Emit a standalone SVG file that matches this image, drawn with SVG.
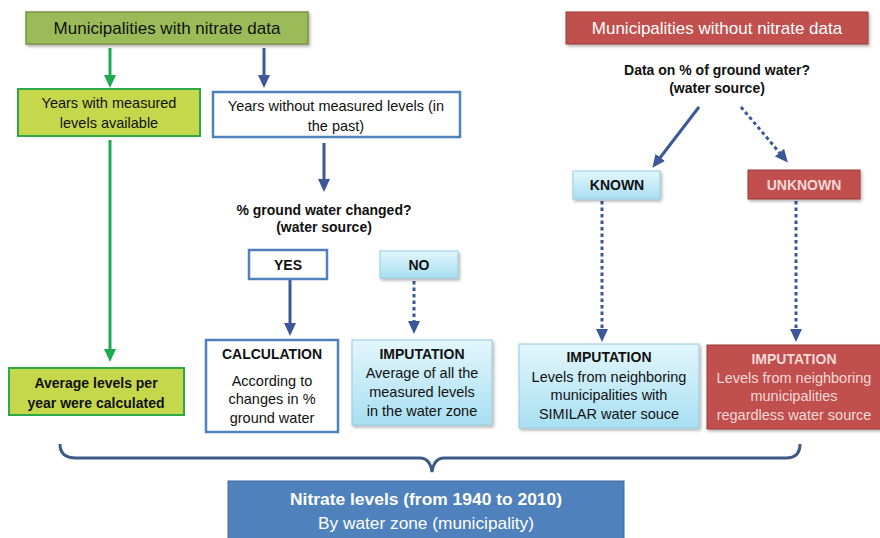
<svg xmlns="http://www.w3.org/2000/svg" width="880" height="538" viewBox="0 0 880 538">
<defs>
<linearGradient id="lb" x1="0" y1="0" x2="0" y2="1"><stop offset="0" stop-color="#e3f6fc"/><stop offset="1" stop-color="#a8dff2"/></linearGradient>
<filter id="sh" x="-10%" y="-10%" width="130%" height="140%"><feDropShadow dx="1.5" dy="2" stdDeviation="1.5" flood-color="#000" flood-opacity="0.3"/></filter>
<marker id="ab" markerUnits="userSpaceOnUse" markerWidth="14" markerHeight="14" refX="7" refY="7" orient="auto"><path d="M0,1 L13,7 L0,13 Z" fill="#3b5998"/></marker>
<marker id="ag" markerUnits="userSpaceOnUse" markerWidth="14" markerHeight="14" refX="7" refY="7" orient="auto"><path d="M0,1 L13,7 L0,13 Z" fill="#1faa50"/></marker>
</defs>
<style>
text{font-family:"Liberation Sans",Arial,sans-serif;text-anchor:middle;fill:#111}
.t15{font-size:17px}
.t13{font-size:14.5px}
.b{font-weight:bold;font-size:14px}
.w{fill:#fff}
.pk{fill:#f4d9d8}
.olive{fill:#9bbb59;stroke:#7a9440;stroke-width:1.5}
.yg{fill:#c5d84c;stroke:#2fa84a;stroke-width:2}
.wb{fill:#fff;stroke:#4f81bd;stroke-width:2.5}
.lb{fill:url(#lb);stroke:#93cbe0;stroke-width:1}
.red{fill:#c0504d;stroke:#9b3a37;stroke-width:1}
.blue{fill:#4f81bd;stroke:#3e6a9e;stroke-width:1}
.cb{stroke:#3b5998;stroke-width:3;fill:none}
.cg{stroke:#1faa50;stroke-width:3;fill:none}
.dot{stroke-dasharray:3.5 3}
</style>
<rect width="880" height="538" fill="#fff"/>
<g id="connectors">
<line class="cg" x1="110" y1="48" x2="110" y2="82" marker-end="url(#ag)"/>
<line class="cb" x1="264" y1="48" x2="264" y2="82" marker-end="url(#ab)"/>
<line class="cg" x1="110" y1="140" x2="110" y2="356" marker-end="url(#ag)"/>
<line class="cb" x1="324" y1="143" x2="324" y2="186" marker-end="url(#ab)"/>
<line class="cb" x1="290" y1="280" x2="290" y2="330" marker-end="url(#ab)"/>
<line class="cb dot" x1="414" y1="281" x2="414" y2="328" marker-end="url(#ab)"/>
<line class="cb" x1="699" y1="107" x2="656" y2="163" marker-end="url(#ab)"/>
<line class="cb dot" x1="741" y1="107" x2="784" y2="158" marker-end="url(#ab)"/>
<line class="cb dot" x1="602" y1="201" x2="602" y2="336" marker-end="url(#ab)"/>
<line class="cb dot" x1="796" y1="201" x2="796" y2="336" marker-end="url(#ab)"/>
<path d="M60,444 Q60,458 76,458 L420,458 Q430,458 432,472 Q434,458 444,458 L786,458 Q800,458 800,444" fill="none" stroke="#3d5a87" stroke-width="3"/>
</g>
<g id="with-data"><rect class="olive" x="26" y="12" width="282" height="32" filter="url(#sh)"/><text class="t15" x="167" y="34">Municipalities with nitrate data</text></g>
<g id="years-measured"><rect class="yg" x="18" y="89" width="182" height="47"/><text class="t13" x="109" y="108">Years with measured</text><text class="t13" x="109" y="128">levels available</text></g>
<g id="years-without"><rect class="wb" x="213" y="92" width="247" height="45"/><text class="t13" x="336" y="111">Years without measured levels (in</text><text class="t13" x="336" y="131">the past)</text></g>
<g id="q-changed"><text class="t13 b" x="324" y="215">% ground water changed?</text><text class="t13 b" x="324" y="232">(water source)</text></g>
<g id="yes"><rect class="wb" x="249" y="250" width="78" height="29"/><text class="t13 b" x="288" y="270">YES</text></g>
<g id="no"><rect class="lb" x="380" y="251" width="78" height="27" filter="url(#sh)"/><text class="t13 b" x="419" y="270">NO</text></g>
<g id="calculation"><rect class="wb" x="206" y="340" width="132" height="92"/><text class="t13 b" x="272" y="359" font-size="14.5">CALCULATION</text><text class="t13" x="272" y="386">According to</text><text class="t13" x="272" y="404">changes in %</text><text class="t13" x="272" y="423">ground water</text></g>
<g id="imputation-no"><rect class="lb" x="352" y="340" width="140" height="85" filter="url(#sh)"/><text class="t13 b" x="422" y="359">IMPUTATION</text><text class="t13" x="422" y="378">Average of all the</text><text class="t13" x="422" y="397">measured levels</text><text class="t13" x="422" y="416">in the water zone</text></g>
<g id="average"><rect class="yg" x="9" y="368" width="175" height="47"/><text class="t13 b" x="96" y="388">Average levels per</text><text class="t13 b" x="96" y="408">year were calculated</text></g>
<g id="without-data"><rect class="red" x="566" y="12" width="302" height="32" filter="url(#sh)"/><text class="t15 w" x="717" y="34">Municipalities without nitrate data</text></g>
<g id="q-data"><text class="t13 b" x="717" y="75">Data on % of ground water?</text><text class="t13 b" x="717" y="93">(water source)</text></g>
<g id="known"><rect class="lb" x="573" y="171" width="87" height="28" filter="url(#sh)"/><text class="t13 b" x="617" y="190">KNOWN</text></g>
<g id="unknown"><rect class="red" x="748" y="170" width="112" height="29" filter="url(#sh)"/><text class="t13 b pk" x="804" y="190">UNKNOWN</text></g>
<g id="imputation-known"><rect class="lb" x="519" y="344" width="180" height="84" filter="url(#sh)"/><text class="t13 b" x="609" y="362">IMPUTATION</text><text class="t13" x="609" y="382">Levels from neighboring</text><text class="t13" x="609" y="400">municipalities with</text><text class="t13" x="609" y="419">SIMILAR water souce</text></g>
<g id="imputation-unknown"><rect class="red" x="707" y="345" width="175" height="84" filter="url(#sh)"/><text class="t13 b pk" x="794" y="364">IMPUTATION</text><text class="t13 pk" x="794" y="383">Levels from neighboring</text><text class="t13 pk" x="794" y="401">municipalities</text><text class="t13 pk" x="794" y="420">regardless water source</text></g>
<g id="nitrate"><rect class="blue" x="228" y="481" width="396" height="60"/><text class="w" x="426" y="505" font-size="17" font-weight="bold" textLength="272" lengthAdjust="spacingAndGlyphs">Nitrate levels  (from 1940 to 2010)</text><text class="w" x="426" y="529" font-size="17" textLength="216" lengthAdjust="spacingAndGlyphs">By water zone (municipality)</text></g>
</svg>
